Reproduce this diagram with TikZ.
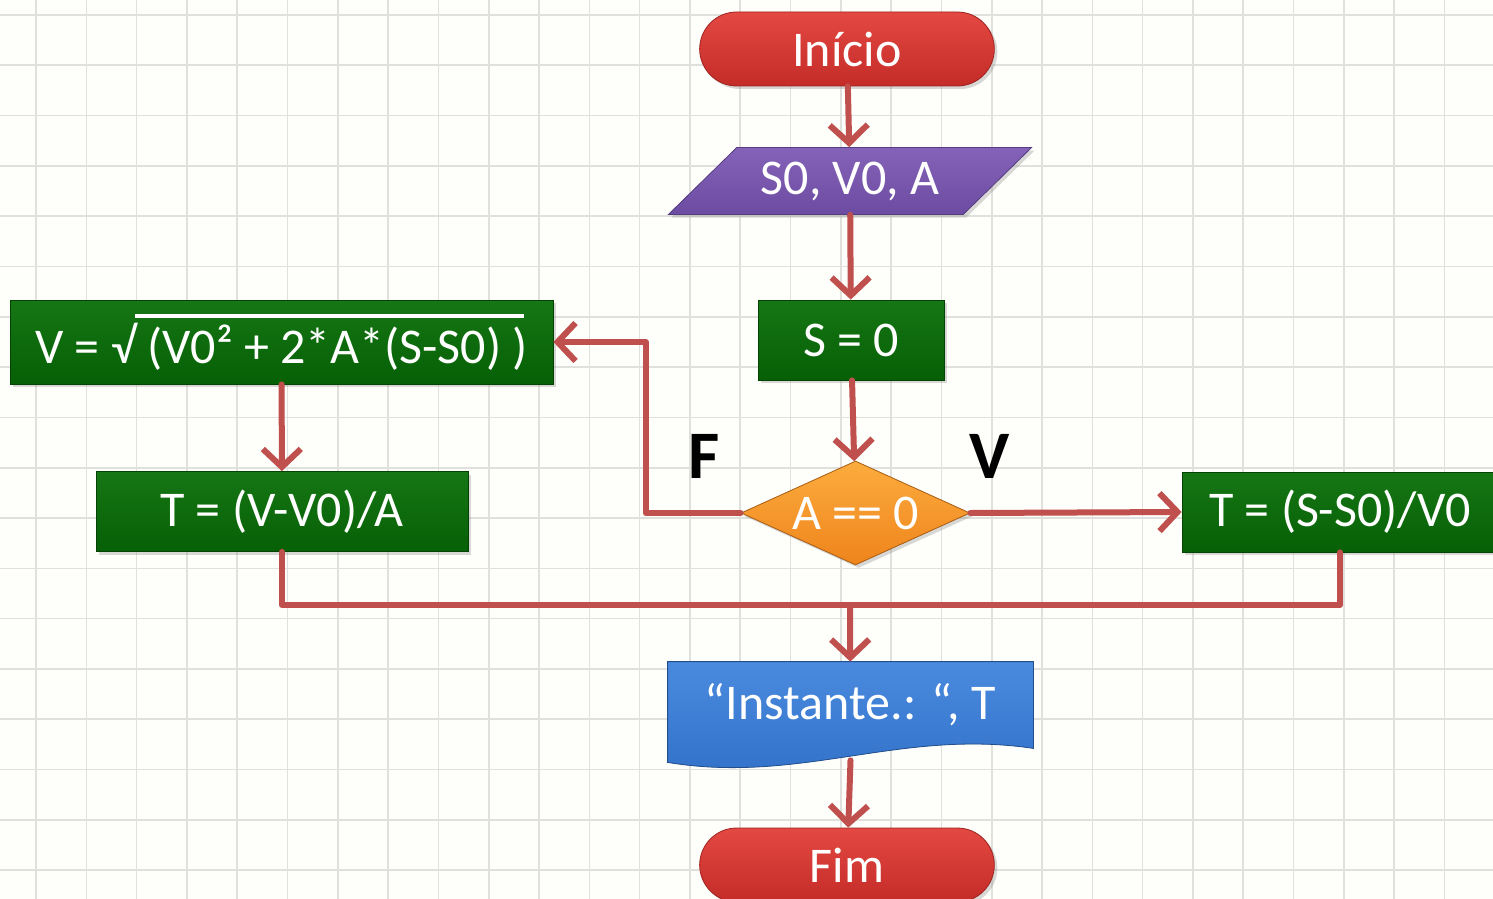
\documentclass[tikz,border=0pt]{standalone}
\usepackage{fontspec}
\setmainfont{Carlito}
\usetikzlibrary{shapes.geometric,shapes.misc,arrows.meta,shadows}
\pgfdeclarelayer{background}
\pgfsetlayers{background,main}

\definecolor{fundo}{RGB}{254,254,250}
\definecolor{grade}{RGB}{224,224,220}
\definecolor{seta}{RGB}{192,80,77}
\definecolor{vermelhoA}{RGB}{228,72,66}
\definecolor{vermelhoB}{RGB}{196,44,40}
\definecolor{roxoA}{RGB}{132,98,184}
\definecolor{roxoB}{RGB}{108,76,162}
\definecolor{verdeA}{RGB}{22,118,20}
\definecolor{verdeB}{RGB}{6,96,6}
\definecolor{laranjaA}{RGB}{252,172,62}
\definecolor{laranjaB}{RGB}{238,132,28}
\definecolor{azulA}{RGB}{74,138,222}
\definecolor{azulB}{RGB}{48,112,200}

% traco sobre a raiz
\newcommand{\barra}[1]{\setbox0\hbox{#1}\rlap{\hspace*{-6pt}\rule[0.9em]{\dimexpr\wd0+4pt\relax}{2pt}}\box0}

\begin{document}
\begin{tikzpicture}[x=0.5pt, y=-0.5pt,
    texto/.style={text=white, font=\fontsize{25}{30}\selectfont},
    sombra/.style={drop shadow={opacity=0.3, shadow xshift=1.5pt, shadow yshift=-1.5pt}},
    terminal/.style={texto, sombra, rounded rectangle, draw=vermelhoB!80!black, top color=vermelhoA, bottom color=vermelhoB, minimum width=154pt, minimum height=37pt},
    entrada/.style={texto, sombra, trapezium, trapezium left angle=42, trapezium right angle=138, trapezium stretches=true, draw=roxoB!80!black, top color=roxoA, bottom color=roxoB, minimum width=182pt, minimum height=33.5pt},
    processo/.style={texto, sombra, rectangle, draw=verdeB!70!black, top color=verdeA, bottom color=verdeB, minimum height=40pt},
    decisao/.style={texto, sombra, diamond, aspect=2.2, inner sep=0pt, draw=laranjaB!70!black, top color=laranjaA, bottom color=laranjaB, minimum width=114.5pt, minimum height=52pt},
    rotulo/.style={font=\fontsize{34}{40}\selectfont\bfseries},
    fluxo/.style={seta, line width=3pt, line cap=round, line join=round},
    >={Straight Barb[length=9pt, width=19pt]}]
  \useasboundingbox (0,0) rectangle (1493,899);
  \clip (0,0) rectangle (1493,899);
  \begin{pgfonlayer}{background}
    \fill[fundo] (0,0) rectangle (1493,899);
    \foreach \k in {0,...,29} \draw[grade, line width=0.8pt] ({36+\k*50.3},0) -- ++(0,899);
    \foreach \k in {0,...,17} \draw[grade, line width=0.8pt] (0,{15+\k*50.3}) -- ++(1493,0);
  \end{pgfonlayer}

  \node[terminal] (inicio) at (847,49) {Início};
  \node[entrada] (dados) at (850,181) {S0, V0, A};
  \node[processo, minimum width=93pt] (zera) at (851,340) {S = 0};
  \node[processo, minimum width=271.5pt, minimum height=42pt] (formula) at (281.5,342) {V = √ \barra{(V0² + 2*A*(S-S0) )}};
  \node[processo, minimum width=186pt] (tempoA) at (282,511.5) {T = (V-V0)/A};
  \node[decisao] (teste) at (855.5,513) {A == 0};
  \node[processo, minimum width=158pt] (tempoB) at (1340,512) {T = (S-S0)/V0};
  \node[texto, minimum width=182.5pt, minimum height=43pt] (saida) at (850.5,705) {“Instante.: “, T};
  \node[terminal] (fim) at (847,865) {Fim};
  \coordinate (juncao) at (850,605);

  % documento com base ondulada
  \begin{pgfonlayer}{background}
    \fill[black, opacity=0.3, shift={(1.5pt,-1.5pt)}] (saida.north west) -- (saida.north east) -- (saida.south east)
      .. controls ([shift={(-133,-20)}]saida.south east) and ([shift={(133,36)}]saida.south west) .. ([shift={(0,14)}]saida.south west) -- cycle;
    \path[top color=azulA, bottom color=azulB, draw=azulB!70!black] (saida.north west) -- (saida.north east) -- (saida.south east)
      .. controls ([shift={(-133,-20)}]saida.south east) and ([shift={(133,36)}]saida.south west) .. ([shift={(0,14)}]saida.south west) -- cycle;
  \end{pgfonlayer}

  \node[rotulo] (falso) at (704,456) {F};
  \node[rotulo] (verdadeiro) at (990,456) {V};

  \draw[fluxo, ->] (inicio) -- (dados);
  \draw[fluxo, ->] (dados) -- (zera);
  \draw[fluxo, ->] (zera) -- (teste);
  \draw[fluxo, ->] (teste.west) -- ++(-95,0) |- (formula.east);
  \draw[fluxo, ->] (teste.east) -- (tempoB.west);
  \draw[fluxo, ->] (formula) -- (tempoA);
  \draw[fluxo] (tempoA.south) |- (juncao) -| (tempoB.south);
  \draw[fluxo, ->] (juncao) -- (saida);
  \draw[fluxo, ->] ([yshift=-6pt]saida.south) -- (fim);
\end{tikzpicture}
\end{document}
